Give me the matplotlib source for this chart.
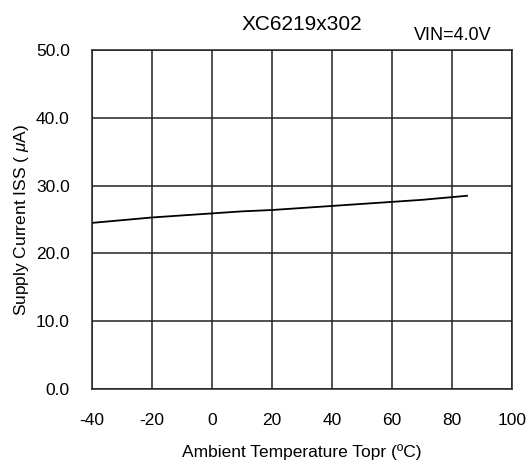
import matplotlib
matplotlib.use('Agg')
import matplotlib.pyplot as plt

# ambient temperature (°C) vs supply current ISS (uA)
temp = [-40, -30, -20, -10, 0, 10, 20, 30, 40, 50, 60, 70, 80, 85]
iss = [24.5, 24.9, 25.3, 25.6, 25.9, 26.2, 26.4, 26.7, 27.0, 27.3, 27.6, 27.9, 28.3, 28.5]

xticks = [-40, -20, 0, 20, 40, 60, 80, 100]
yticks = [0, 10, 20, 30, 40, 50]

plt.rcParams['font.family'] = ['Liberation Sans', 'DejaVu Sans']
plt.rcParams['mathtext.fontset'] = 'custom'
plt.rcParams['mathtext.rm'] = 'Liberation Sans'
plt.rcParams['mathtext.it'] = 'Liberation Sans:italic'
plt.rcParams['axes.unicode_minus'] = False

fig = plt.figure(figsize=(5.31, 4.61), dpi=100)
ax = fig.add_axes([92 / 531, 72 / 461, 420 / 531, 339 / 461])

ax.plot(temp, iss, color='black', linewidth=1.3)

ax.set_xlim(-40, 100)
ax.set_ylim(0, 50)
ax.set_xticks(xticks)
ax.set_yticks(yticks)
ax.set_yticklabels(['%.1f' % v for v in yticks])
ax.grid(True, color='#222222', linewidth=1.1)
ax.set_axisbelow(True)
for s in ax.spines.values():
    s.set_color('#222222')
    s.set_linewidth(1.1)

ax.tick_params(axis='both', length=0, labelsize=12.5, colors='black')
ax.tick_params(axis='x', pad=17)
ax.tick_params(axis='y', pad=16)

ax.set_xlabel('Ambient Temperature Topr (ºC)', fontsize=12.5)
ax.xaxis.set_label_coords(0.5, -0.163)
ax.set_ylabel(r'Supply Current ISS ( $\mu$A)', fontsize=12.5)
ax.yaxis.set_label_coords(-0.146, 0.5)

fig.text(302 / 531, 1 - 24 / 461, 'XC6219x302', fontsize=15, ha='center', va='center')
fig.text(453 / 531, 1 - 35 / 461, 'VIN=4.0V', fontsize=13, ha='center', va='center')

plt.savefig('out.png', dpi=100)
